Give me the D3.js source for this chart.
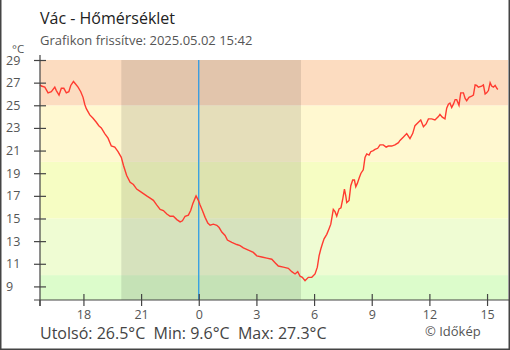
<!DOCTYPE html>
<html><head><meta charset="utf-8">
<script src="https://cdn.jsdelivr.net/npm/d3@7"></script>
<style>
html,body{margin:0;padding:0;background:#fff;}
text{font-family:"Open Sans",sans-serif;}
</style></head>
<body>
<svg id="c" width="510" height="350"></svg>
<script>
// hours since 00:00 on 2025-05-01
const hours = [15.74,15.81,15.99,16.16,16.33,16.51,16.59,16.73,16.85,16.98,17.11,17.24,17.34,17.48,17.58,17.72,17.86,17.98,18.07,18.15,18.33,18.50,18.67,18.80,18.93,19.11,19.28,19.45,19.63,19.80,19.97,20.08,20.25,20.43,20.60,20.77,20.95,21.12,21.29,21.47,21.64,21.81,21.99,22.16,22.34,22.51,22.68,22.86,23.03,23.15,23.29,23.46,23.58,23.69,23.81,23.86,23.98,24.07,24.19,24.33,24.47,24.59,24.76,24.94,25.06,25.20,25.37,25.49,25.72,25.98,26.15,26.32,26.58,26.84,27.02,27.28,27.54,27.80,27.97,28.14,28.40,28.66,28.84,29.01,29.15,29.27,29.39,29.53,29.70,29.88,30.05,30.17,30.26,30.35,30.43,30.52,30.66,30.78,30.87,30.95,31.00,31.09,31.18,31.30,31.40,31.49,31.58,31.65,31.70,31.82,31.91,32.01,32.10,32.17,32.25,32.36,32.44,32.56,32.65,32.74,32.86,32.95,33.08,33.17,33.31,33.43,33.60,33.75,33.86,34.04,34.21,34.39,34.47,34.65,34.82,34.99,35.13,35.25,35.43,35.55,35.69,35.83,35.95,36.12,36.29,36.47,36.55,36.67,36.81,36.90,36.99,37.07,37.16,37.25,37.34,37.42,37.54,37.63,37.77,37.86,37.94,38.06,38.20,38.29,38.38,38.46,38.55,38.72,38.81,38.90,38.98,39.07,39.16,39.24,39.33,39.42,39.51,39.56];
const temps = [26.8,26.7,26.6,26.1,26.2,26.6,26.3,25.9,26.5,26.5,26.1,26.2,26.75,27.1,26.9,26.6,26.2,25.7,25.07,24.7,24.15,23.86,23.5,23.2,23.0,22.5,22.1,21.4,21.3,20.9,20.4,19.7,18.8,18.2,18.0,17.6,17.4,17.2,17.0,16.8,16.6,16.2,15.8,15.7,15.4,15.2,15.2,14.9,14.7,14.8,15.2,15.3,15.7,16.3,16.8,17.0,16.6,16.2,15.7,15.1,14.6,14.4,14.5,14.4,14.2,13.8,13.5,13.1,12.9,12.7,12.6,12.4,12.2,12.0,11.7,11.6,11.5,11.4,11.1,10.8,10.7,10.6,10.3,10.1,10.3,9.9,9.8,9.5,9.8,9.8,10.1,10.7,11.7,12.3,12.75,13.2,13.6,14.1,14.5,15.3,15.8,15.6,15.2,15.85,15.95,16.7,17.6,17.0,16.4,16.6,17.9,18.4,18.4,17.8,18.1,18.65,19.0,19.3,20.4,20.7,20.6,20.9,21.0,21.1,21.2,21.5,21.5,21.3,21.4,21.4,21.5,21.7,21.9,22.2,22.5,22.05,22.5,23.2,23.5,23.7,23.1,23.35,23.8,23.8,23.7,24.0,24.2,23.95,23.8,24.75,25.1,25.2,24.8,25.1,25.5,25.5,25.0,26.1,26.1,25.6,25.4,25.7,25.8,25.9,26.8,26.75,26.6,26.7,26.8,26.0,26.1,26.3,27.0,26.7,26.6,26.75,26.5,26.4];
const yTicks = [9,11,13,15,17,19,21,23,25,27,29];
const xTicks = [18,21,24,27,30,33,36,39];
const xTickLabels = ["18","21","0","3","6","9","12","15"];
const bandBreaks = [7.8,10,15,20,25,29];
const bandColors = ["#dcfccb","#effcd3","#f6fdc3","#fff8d0","#fcdcc0"];
const night = [19.97,29.32];
const nowMark = 24;
const title = "Vác - Hőmérséklet";
const subtitle = "Grafikon frissítve: 2025.05.02 15:42";
const footer = "Utolsó: 26.5°C  Min: 9.6°C  Max: 27.3°C";
const credit = "© Időkép";

const svg = d3.select("#c");
const L=40, R=508, T=60, B=300;
const x = d3.scaleLinear().domain([15.74,40.09]).range([L,R]);
const y = d3.scaleLinear().domain([7.8,29]).range([B,T]);

// bands
svg.append("g").selectAll("rect").data(bandColors).join("rect")
  .attr("x",L).attr("width",R-L)
  .attr("y",(d,i)=>y(bandBreaks[i+1])).attr("height",(d,i)=>y(bandBreaks[i])-y(bandBreaks[i+1]))
  .attr("fill",d=>d);
// night
svg.append("rect").attr("x",x(night[0])).attr("width",x(night[1])-x(night[0]))
  .attr("y",T).attr("height",B-T).attr("fill","rgba(0,0,0,0.1)");
// now line
svg.append("line").attr("x1",x(nowMark)).attr("x2",x(nowMark)).attr("y1",T).attr("y2",B)
  .attr("stroke","#2196e8").attr("stroke-width",1.2);

// line
const data = hours.map((h,i)=>({h,t:temps[i]}));
svg.append("path").datum(data)
  .attr("fill","none").attr("stroke","#ff3b30").attr("stroke-width",1.4)
  .attr("d",d3.line().x(d=>x(d.h)).y(d=>y(d.t)));

// y axis
const ya = svg.append("g").attr("transform",`translate(${L},0)`)
  .call(d3.axisLeft(y).tickValues(yTicks).tickSize(6).tickFormat(""));
ya.select(".domain").remove();
ya.selectAll(".tick line").attr("x1",-6).attr("x2",6).attr("stroke","#444").attr("stroke-width",1.2);
svg.append("line").attr("x1",L).attr("x2",L).attr("y1",55).attr("y2",306).attr("stroke","#444").attr("stroke-width",1.2);
svg.append("g").selectAll("text").data(yTicks).join("text")
  .attr("x",6).attr("y",d=>y(d)).attr("dy","0.36em").attr("font-size",12.5).attr("fill","#555").text(d=>d);
svg.append("text").attr("x",12).attr("y",53).attr("font-size",11.5).attr("fill","#555").text("°C");

// x axis
const xa = svg.append("g").attr("transform",`translate(0,${B})`)
  .call(d3.axisBottom(x).tickValues(xTicks).tickSize(6).tickFormat((d,i)=>xTickLabels[i]));
xa.select(".domain").remove();
xa.selectAll(".tick line").attr("y1",-6).attr("y2",6).attr("stroke","#444").attr("stroke-width",1.2);
xa.selectAll(".tick text").attr("y",10).attr("font-size",12.5).attr("fill","#555").attr("font-family","Open Sans");
svg.append("line").attr("x1",34).attr("x2",509).attr("y1",B).attr("y2",B).attr("stroke","#444").attr("stroke-width",1.2);
svg.append("line").attr("x1",L).attr("x2",L).attr("y1",B).attr("y2",306).attr("stroke","#444").attr("stroke-width",1.2);

// frame
svg.append("path").attr("d","M0.75,0 V349.25 H509.25 V0").attr("fill","none").attr("stroke","#444").attr("stroke-width",1.5);

// texts
svg.append("text").attr("x",40).attr("y",24).attr("font-size",16).attr("fill","#222").text(title);
svg.append("text").attr("x",40).attr("y",45).attr("font-size",13).attr("fill","#555").text(subtitle);
svg.append("text").attr("x",40).attr("y",339).attr("font-size",16).attr("fill","#444").style("white-space","pre").text(footer);
svg.append("text").attr("x",425).attr("y",336).attr("font-size",13).attr("fill","#555").text(credit);
</script>
</body></html>
